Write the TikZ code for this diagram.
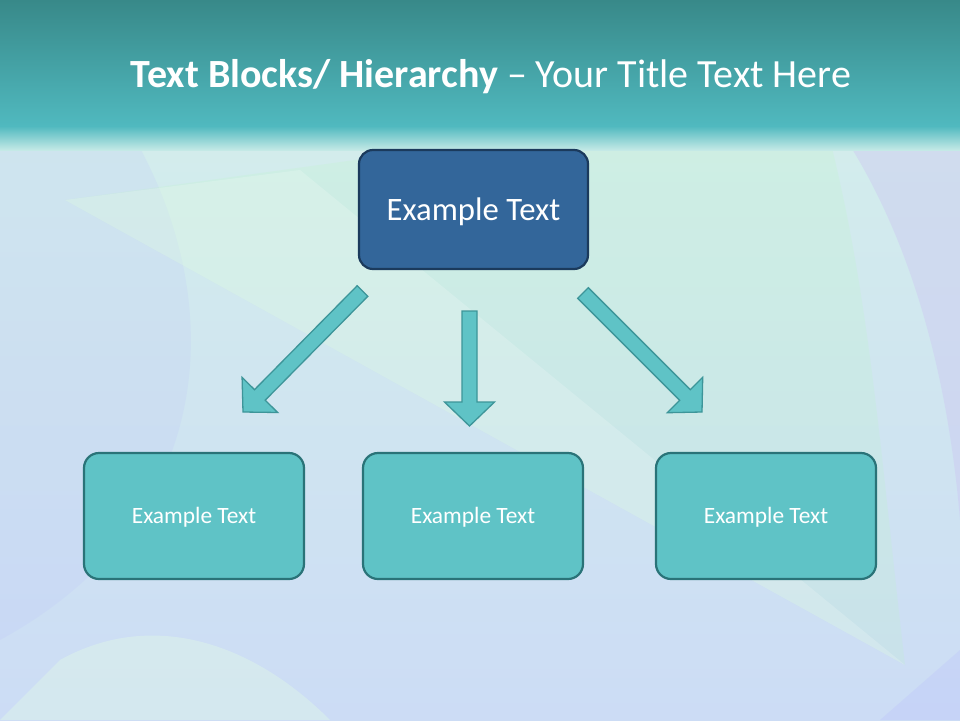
\documentclass[tikz,border=0pt]{standalone}
\usepackage{fontspec}
\setmainfont{Carlito}
\usepackage{tikz}
\usepackage{xcolor}
\usetikzlibrary{positioning,shapes,calc}

\definecolor{headtop}{HTML}{388989}
\definecolor{headbot}{HTML}{50B9BF}
\definecolor{bgtop}{HTML}{C4E9E6}
\definecolor{bgmid}{HTML}{D3EDEC}
\definecolor{bgbot}{HTML}{CCDCF5}
\definecolor{topfill}{HTML}{33669A}
\definecolor{topline}{HTML}{1B3A5C}
\definecolor{boxfill}{HTML}{5FC3C6}
\definecolor{boxline}{HTML}{2A7378}
\definecolor{arrline}{HTML}{3D9599}

\newcommand{\hierarrow}[2]{%
\coordinate (hb) at ($(#2)!24pt!(#1)$);
\draw [arrowshape] ($(#1)!7.5pt!90:(#2)$) -- ($(hb)!7.5pt!90:(#2)$) -- ($(hb)!25pt!90:(#2)$) -- (#2)
  -- ($(hb)!25pt!-90:(#2)$) -- ($(hb)!7.5pt!-90:(#2)$) -- ($(#1)!7.5pt!-90:(#2)$) -- cycle;}

\begin{document}
\begin{tikzpicture}[x=1pt,y=-1pt]
\tikzstyle{every node}+=[inner sep=0pt]
\tikzstyle{topbox}=[draw=topline,line width=2.2pt,fill=topfill,rounded corners=14pt,minimum width=229pt,minimum height=119pt,text=white,text height=28.9pt,text depth=6.5pt,font=\fontsize{32.7}{38}\selectfont]
\tikzstyle{subbox}=[draw=boxline,line width=2.2pt,fill=boxfill,rounded corners=15pt,minimum width=220pt,minimum height=126pt,text=white,text height=20.4pt,text depth=4.7pt,font=\fontsize{23.4}{28}\selectfont]
\tikzstyle{arrowshape}=[draw=arrline,line width=1.3pt,fill=boxfill,line join=miter]
\useasboundingbox (0,0) rectangle (960,720);
% background
\shade [top color=bgmid, bottom color=bgbot] (0,130) rectangle (960,720);
\fill [blue!30!white,opacity=0.12] (0,130) -- (130,130) .. controls (230,300) and (220,520) .. (0,640) -- cycle;
\fill [green!30!white,opacity=0.14] (65,200) -- (500,140) -- (830,140) .. controls (870,300) and (880,450) .. (905,665) -- cycle;
\fill [white,opacity=0.18] (65,200) -- (300,170) -- (905,665) -- cycle;
\fill [violet!40!blue!25!white,opacity=0.35] (840,130) .. controls (920,250) and (950,400) .. (960,520) -- (960,130) -- cycle;
\fill [green!10!white,opacity=0.35] (0,720) -- (60,660) .. controls (150,610) and (250,640) .. (330,720) -- cycle;
\fill [blue!30!white,opacity=0.2] (960,650) -- (880,720) -- (960,720) -- cycle;
% header
\shade [top color=headtop, bottom color=headbot] (0,0) rectangle (960,126);
\shade [top color=headbot, bottom color=bgtop] (0,126) rectangle (960,150);
\node (title) at (491,77) [text=white,font=\fontsize{40}{46}\selectfont] {\textbf{Text Blocks/ Hierarchy} – Your Title Text Here};
% boxes
\node (top) at (473.5,209.5) [topbox] {Example Text};
\node (left) at (194,516) [subbox] {Example Text};
\node (mid) at (473,516) [subbox] {Example Text};
\node (right) at (766,516) [subbox] {Example Text};
% arrows
\coordinate (ltail) at (362.5,291);
\coordinate (ltip) at (243,412);
\coordinate (mtail) at (469.5,311);
\coordinate (mtip) at (469.5,426);
\coordinate (rtail) at (583,293);
\coordinate (rtip) at (702,412);
\hierarrow{ltail}{ltip}
\hierarrow{mtail}{mtip}
\hierarrow{rtail}{rtip}
\end{tikzpicture}
\end{document}
